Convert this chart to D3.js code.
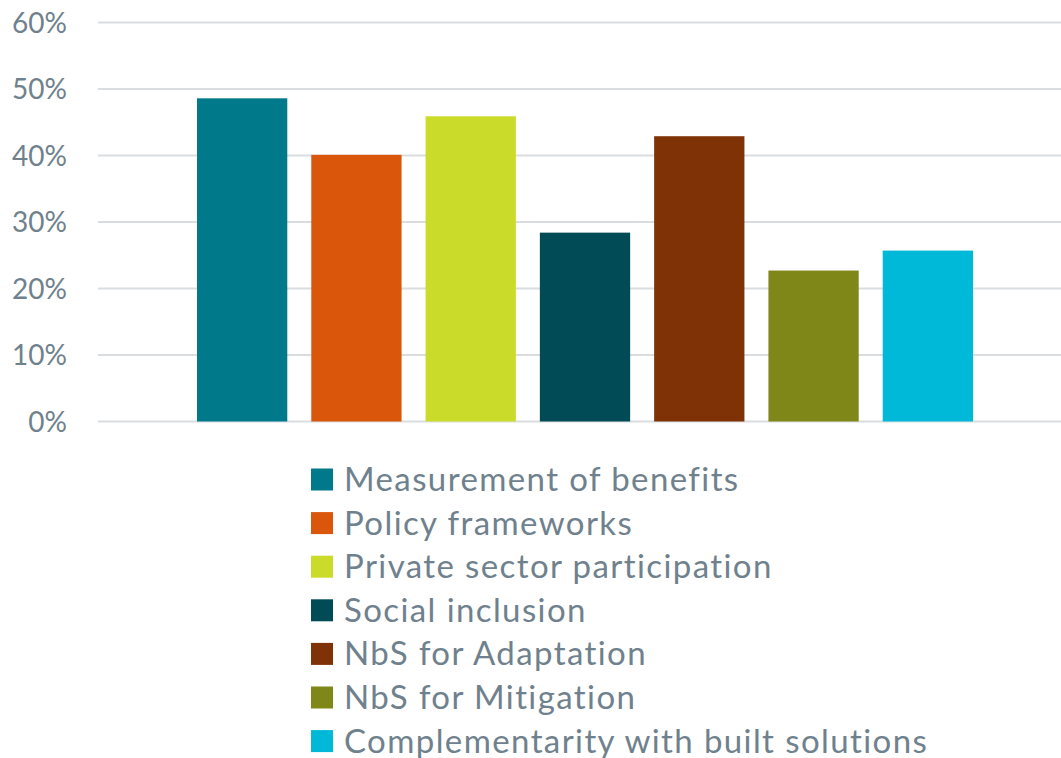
<!DOCTYPE html>
<html lang="en">
<head>
<meta charset="utf-8">
<title>NbS topics</title>
<script src="https://cdn.jsdelivr.net/npm/d3@7"></script>
<style>
  body { margin: 0; background: #fff; }
  text { font-family: Lato, "Open Sans", sans-serif; fill: #6f818d; }
</style>
</head>
<body>
<script>
// data
var categories = ["Measurement of benefits", "Policy frameworks", "Private sector participation",
                  "Social inclusion", "NbS for Adaptation", "NbS for Mitigation",
                  "Complementarity with built solutions"];
var values = [0.486, 0.401, 0.459, 0.284, 0.429, 0.227, 0.257];
var colors = ["#007a8a", "#d9560b", "#cbdb2a", "#004b55", "#7f3205", "#7f8718", "#00b9d8"];
var ticks = [0, 0.1, 0.2, 0.3, 0.4, 0.5, 0.6];

var W = 1061, H = 758;
var svg = d3.select("body").append("svg").attr("width", W).attr("height", H);

var y = d3.scaleLinear().domain([0, 0.6]).range([421.5, 22.5]);
var x = d3.scaleBand().domain(categories).range([197, 973]).paddingInner(0.21).paddingOuter(0);

// gridlines
svg.append("g").selectAll("line").data(ticks).enter().append("line")
  .attr("x1", 98).attr("x2", W)
  .attr("y1", function(d) { return y(d); })
  .attr("y2", function(d) { return y(d); })
  .attr("stroke", "#d9dde0").attr("stroke-width", 2);

// y labels
var yAxis = d3.axisLeft(y).tickValues(ticks).tickFormat(d3.format(".0%")).tickSize(0).tickPadding(0);
var ga = svg.append("g").attr("transform", "translate(67,0)").call(yAxis);
ga.select(".domain").remove();
ga.selectAll("text").attr("font-size", 28).attr("fill", "#6f818d")
  .style("font-family", "Lato, 'Open Sans', sans-serif").attr("dy", "0.35em");

// bars
svg.append("g").selectAll("rect").data(values).enter().append("rect")
  .attr("x", function(d, i) { return x(categories[i]); })
  .attr("width", x.bandwidth())
  .attr("y", function(d) { return y(d); })
  .attr("height", function(d) { return y(0) - y(d); })
  .attr("fill", function(d, i) { return colors[i]; });

// legend
var leg = svg.append("g").selectAll("g").data(categories).enter().append("g")
  .attr("transform", function(d, i) { return "translate(311," + (468.5 + i * 43.6) + ")"; });
leg.append("rect").attr("width", 22).attr("height", 22)
  .attr("fill", function(d, i) { return colors[i]; });
leg.append("text").attr("x", 33).attr("y", 11).attr("dy", "0.35em")
  .attr("font-size", 33).attr("letter-spacing", 1.4).text(function(d) { return d; });
</script>
</body>
</html>
